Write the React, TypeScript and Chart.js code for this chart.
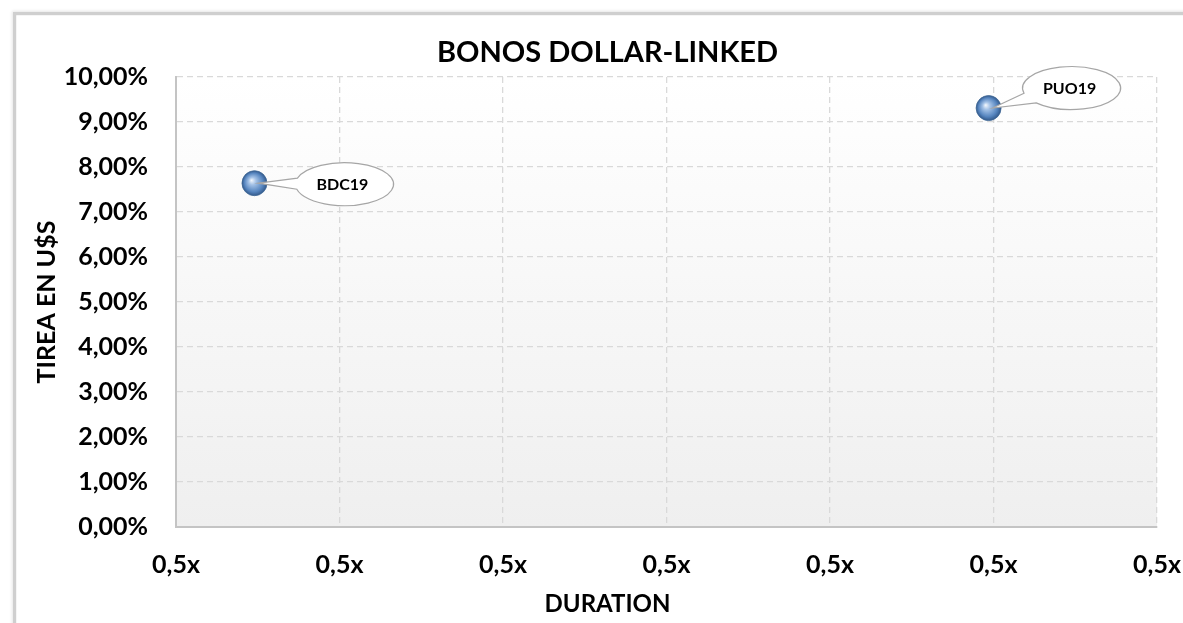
import { useEffect, useRef } from 'react';
import { Chart, registerables } from 'chart.js';

Chart.register(...registerables);

// datos
const bonos = ['BDC19', 'PUO19'];
const duration = [0.48, 4.97];
const tirea = [0.0764, 0.0931];
const xTickLabels = ['0,5x', '0,5x', '0,5x', '0,5x', '0,5x', '0,5x', '0,5x'];

// desplazamiento de cada globo respecto de su punto (px)
const calloutOffsets = [
  { dx: 90, dy: 1 },
  { dx: 83, dy: -20 },
];

const FONT = 'Lato, "Open Sans", sans-serif';

const plotBackground = {
  id: 'plotBackground',
  beforeDraw(chart: any) {
    const { ctx, chartArea: a } = chart;
    const g = ctx.createLinearGradient(0, a.top, 0, a.bottom);
    g.addColorStop(0, '#ffffff');
    g.addColorStop(1, '#efefef');
    ctx.save();
    ctx.fillStyle = g;
    ctx.fillRect(a.left, a.top, a.right - a.left, a.bottom - a.top);
    ctx.restore();
  },
};

const callouts = {
  id: 'callouts',
  afterDatasetsDraw(chart: any) {
    const { ctx } = chart;
    const meta = chart.getDatasetMeta(0);
    meta.data.forEach((pt: any, i: number) => {
      const px = pt.x;
      const py = pt.y;
      const cx = px + calloutOffsets[i].dx;
      const cy = py + calloutOffsets[i].dy;
      const rx = 49;
      const ry = 21.5;
      const a = Math.atan2((py - cy) / ry, (px - cx) / rx);
      const d = 0.26;
      ctx.save();
      ctx.beginPath();
      ctx.moveTo(px + 4, py);
      ctx.ellipse(cx, cy, rx, ry, 0, a + d, a - d + Math.PI * 2);
      ctx.closePath();
      ctx.fillStyle = '#ffffff';
      ctx.fill();
      ctx.lineWidth = 1.2;
      ctx.strokeStyle = '#a6a6a6';
      ctx.stroke();
      ctx.fillStyle = '#000000';
      ctx.font = `bold 16px ${FONT}`;
      ctx.textAlign = 'center';
      ctx.textBaseline = 'middle';
      ctx.fillText(bonos[i], cx - 2, cy + 1);
      ctx.restore();
    });
  },
};

export default function App() {
  const canvasRef = useRef<HTMLCanvasElement>(null);

  useEffect(() => {
    document.body.style.margin = '0';
    document.body.style.overflow = 'hidden';
    const ctx = canvasRef.current?.getContext('2d');
    if (!ctx) return;
    Chart.defaults.font.family = FONT;
    Chart.defaults.color = '#000000';

    const chart = new Chart(ctx, {
      type: 'scatter',
      data: {
        labels: bonos,
        datasets: [
          {
            label: 'Bonos',
            data: duration.map((d, i) => ({ x: d, y: tirea[i] })),
            pointRadius: 12.5,
            pointHoverRadius: 12.5,
            pointBorderWidth: 0.8,
            pointBorderColor: '#3e6796',
            pointBackgroundColor: (c: any) => {
              const raw = c.raw;
              const sx = c.chart.scales?.x;
              const sy = c.chart.scales?.y;
              if (!raw || !sx || !sy) return '#6b95c8';
              const x = sx.getPixelForValue(raw.x);
              const y = sy.getPixelForValue(raw.y);
              if (!Number.isFinite(x) || !Number.isFinite(y)) return '#6b95c8';
              const g = c.chart.ctx.createRadialGradient(x - 3, y - 3, 0, x, y, 12.5);
              g.addColorStop(0, '#f4f8fd');
              g.addColorStop(0.3, '#a3c1e6');
              g.addColorStop(0.75, '#5685bf');
              g.addColorStop(1, '#33598a');
              return g;
            },
          },
        ],
      },
      options: {
        animation: false,
        responsive: true,
        maintainAspectRatio: false,
        layout: { padding: 0 },
        plugins: {
          legend: { display: false },
          tooltip: { enabled: false },
          title: {
            display: true,
            text: 'BONOS DOLLAR-LINKED',
            font: { size: 29, weight: 'bold' },
            color: '#000000',
            padding: { top: 35.6, bottom: 6.6 },
          },
          subtitle: {
            display: true,
            position: 'bottom',
            text: 'DURATION',
            font: { size: 24, weight: 'bold' },
            color: '#000000',
            padding: { top: 0, bottom: 4 },
          },
        },
        scales: {
          x: {
            type: 'linear',
            min: 0,
            max: 6,
            afterFit: (s: any) => {
              s.height = 63.2;
              s.paddingLeft = 0;
              s.paddingRight = 58;
            },
            ticks: {
              stepSize: 1,
              autoSkip: false,
              maxRotation: 0,
              padding: 23,
              font: { size: 25, weight: 'bold' },
              color: '#000000',
              callback: (_v: any, i: number) => xTickLabels[i],
            },
            grid: { color: '#d9d9d9', lineWidth: 1.3, drawTicks: false },
            border: { display: true, color: '#c4c4c4', width: 2, dash: [6, 4] },
          },
          y: {
            min: 0,
            max: 0.1,
            afterFit: (s: any) => {
              s.width = 176;
              s.paddingTop = 0;
              s.paddingBottom = 0;
            },
            ticks: {
              stepSize: 0.01,
              padding: 28,
              font: { size: 25, weight: 'bold' },
              color: '#000000',
              callback: (v: any) => (Number(v) * 100).toFixed(2).replace('.', ',') + '%',
            },
            grid: { color: '#d9d9d9', lineWidth: 1.3, drawTicks: false },
            border: { display: true, color: '#c4c4c4', width: 2, dash: [6, 4] },
            title: {
              display: true,
              text: 'TIREA EN U$S',
              font: { size: 25, weight: 'bold' },
              color: '#000000',
              padding: { top: 32, bottom: 0 },
            },
          },
        },
      },
      plugins: [plotBackground, callouts],
    });
    return () => chart.destroy();
  }, []);

  return (
    <div style={{ position: 'relative', width: 1183, height: 623, overflow: 'hidden', background: '#ffffff' }}>
      <div
        style={{
          position: 'absolute',
          left: 13,
          top: 12,
          width: 1300,
          height: 700,
          border: '3px solid #cfcfcf',
          boxShadow: '0 0 3px 1px #e6e6e6, inset 0 0 1px #9a9a9a',
          background: '#ffffff',
        }}
      />
      <div style={{ position: 'absolute', left: 0, top: 0, width: 1215, height: 623 }}>
        <canvas ref={canvasRef} />
      </div>
    </div>
  );
}
